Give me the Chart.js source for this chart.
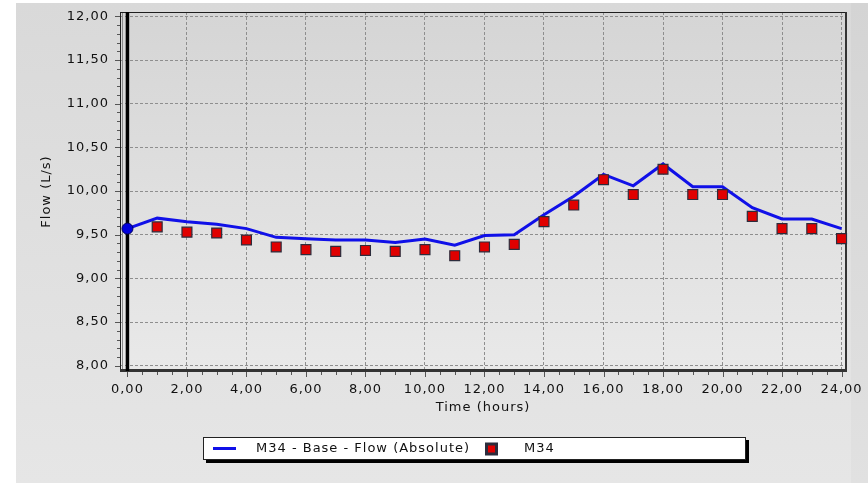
<!DOCTYPE html>
<html>
<head>
<meta charset="utf-8">
<script src="https://cdn.jsdelivr.net/npm/chart.js@4/dist/chart.umd.min.js"></script>
<style>
  html, body { margin: 0; padding: 0; background: #ffffff; }
  canvas { display: block; }
</style>
</head>
<body>
<canvas id="flowChart" width="868" height="483"></canvas>
<script>
// Simulated flow (hourly, 0-24 h)
const modelHours = [0, 1, 2, 3, 4, 5, 6, 7, 8, 9, 10, 11, 12, 13, 14, 15, 16, 17, 18, 19, 20, 21, 22, 23, 24];
const modelFlow = [9.57, 9.69, 9.65, 9.62, 9.57, 9.47, 9.455, 9.44, 9.44, 9.41, 9.45, 9.38, 9.49, 9.50,
                   9.73, 9.94, 10.19, 10.06, 10.31, 10.05, 10.05, 9.81, 9.68, 9.68, 9.57];

// Field measurements at M34
const observedHours = [1, 2, 3, 4, 5, 6, 7, 8, 9, 10, 11, 12, 13, 14, 15, 16, 17, 18, 19, 20, 21, 22, 23, 24];
const observedFlow = [9.59, 9.53, 9.52, 9.44, 9.36, 9.33, 9.31, 9.32, 9.31, 9.33, 9.26, 9.36,
                      9.39, 9.65, 9.84, 10.13, 9.96, 10.25, 9.96, 9.96, 9.71, 9.57, 9.57, 9.455];

// Axis ticks
const xTicks = [0, 2, 4, 6, 8, 10, 12, 14, 16, 18, 20, 22, 24];
const yTicks = [8, 8.5, 9, 9.5, 10, 10.5, 11, 11.5, 12];

const seriesLabels = ['M34 - Base - Flow (Absolute)', 'M34'];
const xTitle = 'Time (hours)';
const yTitle = 'Flow (L/s)';
const cursorTime = 0;

const FONT = 'DejaVu Sans';
Chart.defaults.font.family = FONT;
Chart.defaults.font.size = 13;
Chart.defaults.color = '#111111';

const fmt = v => Number(v).toFixed(2).replace('.', ',');

// Wide GDI-like text spacing for every label on the canvas
function applySpacing(chart) { chart.ctx.letterSpacing = '1px'; }
const spacingPlugin = {
  id: 'spacing',
  beforeInit: applySpacing,
  beforeUpdate: applySpacing,
  beforeLayout: applySpacing,
  beforeDraw: applySpacing
};

// Panel and plot-area backgrounds
const backgroundPlugin = {
  id: 'panelBackground',
  beforeDraw(chart) {
    const { ctx, width, height, chartArea: a } = chart;
    ctx.save();
    ctx.fillStyle = '#ffffff';
    ctx.fillRect(0, 0, width, height);
    const pg = ctx.createLinearGradient(0, 3, 0, height);
    pg.addColorStop(0, '#d9d9d9');
    pg.addColorStop(1, '#e6e6e6');
    ctx.fillStyle = pg;
    ctx.fillRect(16, 3, width - 16, height - 3);
    ctx.fillStyle = 'rgba(0,0,0,0.02)';
    ctx.fillRect(851, 3, width - 851, height - 3);
    const ag = ctx.createLinearGradient(0, a.top, 0, a.bottom);
    ag.addColorStop(0, '#d5d5d5');
    ag.addColorStop(1, '#e9e9e9');
    ctx.fillStyle = ag;
    ctx.fillRect(a.left, a.top, a.right - a.left, a.bottom - a.top);
    ctx.restore();
  }
};

// Frame, minor ticks and time cursor
const framePlugin = {
  id: 'frame',
  beforeDatasetsDraw(chart) {
    const { ctx, chartArea: a, scales: { x, y } } = chart;
    ctx.save();
    // minor / major tick marks on the outside of the frame
    ctx.strokeStyle = '#555555';
    ctx.lineWidth = 1;
    ctx.beginPath();
    for (let v = Math.ceil(y.min * 10); v <= Math.floor(y.max * 10); v++) {
      const py = Math.round(y.getPixelForValue(v / 10)) + 0.5;
      const len = v % 5 === 0 ? 5 : 3;
      ctx.moveTo(a.left - len, py);
      ctx.lineTo(a.left, py);
    }
    for (let v = Math.ceil(x.min * 2); v <= Math.floor(x.max * 2); v++) {
      const px = Math.round(x.getPixelForValue(v / 2)) + 0.5;
      const len = v % 4 === 0 ? 6 : 4;
      ctx.moveTo(px, a.bottom);
      ctx.lineTo(px, a.bottom + len);
    }
    ctx.stroke();

    // frame
    ctx.strokeStyle = '#1e1e1e';
    ctx.lineWidth = 1;
    ctx.strokeRect(a.left + 0.5, a.top + 0.5, a.right - a.left - 1, a.bottom - a.top - 1);
    ctx.strokeStyle = '#8a8a8a';
    ctx.beginPath();
    ctx.moveTo(a.left + 2.5, a.top + 1);
    ctx.lineTo(a.left + 2.5, a.bottom - 1);
    ctx.stroke();
    ctx.strokeStyle = '#333333';
    ctx.lineWidth = 3;
    ctx.beginPath();
    ctx.moveTo(a.left, a.bottom - 0.5);
    ctx.lineTo(a.right + 1, a.bottom - 0.5);
    ctx.stroke();
    ctx.lineWidth = 2;
    ctx.beginPath();
    ctx.moveTo(a.right, a.top);
    ctx.lineTo(a.right, a.bottom);
    ctx.stroke();

    // time cursor
    const cx = x.getPixelForValue(cursorTime);
    ctx.strokeStyle = '#000000';
    ctx.lineWidth = 3.5;
    ctx.beginPath();
    ctx.moveTo(cx, a.top);
    ctx.lineTo(cx, a.bottom);
    ctx.stroke();
    ctx.restore();
  }
};

// Boxed legend with drop shadow
const legendPlugin = {
  id: 'boxLegend',
  afterDraw(chart) {
    const { ctx } = chart;
    const [lineSet, obsSet] = chart.data.datasets;
    const bx = 203, by = 437, bw = 543, bh = 23;
    const cy = by + bh / 2;
    ctx.save();
    ctx.fillStyle = '#000000';
    ctx.fillRect(bx + 3, by + 3, bw, bh);
    ctx.fillStyle = '#ffffff';
    ctx.fillRect(bx, by, bw, bh);
    ctx.strokeStyle = '#222222';
    ctx.lineWidth = 1;
    ctx.strokeRect(bx + 0.5, by + 0.5, bw - 1, bh - 1);

    ctx.strokeStyle = lineSet.borderColor;
    ctx.lineWidth = 3;
    ctx.beginPath();
    ctx.moveTo(bx + 10, cy);
    ctx.lineTo(bx + 33, cy);
    ctx.stroke();

    ctx.font = '13px "' + FONT + '"';
    ctx.letterSpacing = '1px';
    ctx.fillStyle = '#111111';
    ctx.textBaseline = 'middle';
    ctx.textAlign = 'left';
    ctx.fillText(lineSet.label, bx + 53, cy);

    ctx.fillStyle = obsSet.pointBackgroundColor;
    ctx.strokeStyle = obsSet.pointBorderColor;
    ctx.fillRect(bx + 283, cy - 5, 10, 10);
    ctx.strokeRect(bx + 283.5, cy - 4.5, 10, 10);

    ctx.fillStyle = '#111111';
    ctx.fillText(obsSet.label, bx + 321, cy);
    ctx.restore();
  }
};

const titleFont = { family: FONT, size: 13 };

new Chart(document.getElementById('flowChart'), {
  type: 'line',
  data: {
    datasets: [
      {
        label: seriesLabels[0],
        data: modelHours.map((h, i) => ({ x: h, y: modelFlow[i] })),
        borderColor: '#1010e8',
        borderWidth: 3,
        tension: 0,
        pointRadius: c => (c.dataIndex === 0 ? 5.5 : 0),
        pointBackgroundColor: '#0000dd',
        pointBorderColor: '#00005a',
        pointBorderWidth: 1,
        clip: false,
        order: 1
      },
      {
        label: seriesLabels[1],
        data: observedHours.map((h, i) => ({ x: h, y: observedFlow[i] })),
        showLine: false,
        pointStyle: 'rect',
        pointRadius: 7,
        pointBackgroundColor: '#e00000',
        pointBorderColor: '#2c2c3c',
        pointBorderWidth: 1.2,
        clip: false,
        order: 0
      }
    ]
  },
  options: {
    responsive: false,
    animation: false,
    devicePixelRatio: 1,
    layout: { padding: { left: 0, top: 12, right: 22, bottom: 50 } },
    plugins: { legend: { display: false }, tooltip: { enabled: false } },
    scales: {
      x: {
        type: 'linear',
        min: -0.25,
        max: 24.15,
        afterBuildTicks: s => { s.ticks = xTicks.map(v => ({ value: v })); },
        afterFit: s => { s.height = 62; s.paddingLeft = 0; s.paddingRight = 0; },
        ticks: { callback: v => fmt(v), padding: 11, maxRotation: 0, autoSkip: false, color: '#111111' },
        grid: { color: '#8e8e8e', lineWidth: 1, drawTicks: false },
        border: { display: false, dash: [3, 2] },
        title: { display: true, text: xTitle, font: titleFont, color: '#111111', padding: { top: 0, bottom: 18 } }
      },
      y: {
        type: 'linear',
        min: 7.94,
        max: 12.05,
        afterBuildTicks: s => { s.ticks = yTicks.map(v => ({ value: v })); },
        afterFit: s => { s.width = 120; s.paddingTop = 0; s.paddingBottom = 0; },
        ticks: { callback: v => fmt(v), padding: 11, color: '#111111' },
        grid: { color: '#8e8e8e', lineWidth: 1, drawTicks: false },
        border: { display: false, dash: [3, 2] },
        title: { display: true, text: yTitle, font: titleFont, color: '#111111', padding: { top: 39, bottom: 0 } }
      }
    }
  },
  plugins: [spacingPlugin, backgroundPlugin, framePlugin, legendPlugin]
});
</script>
</body>
</html>
